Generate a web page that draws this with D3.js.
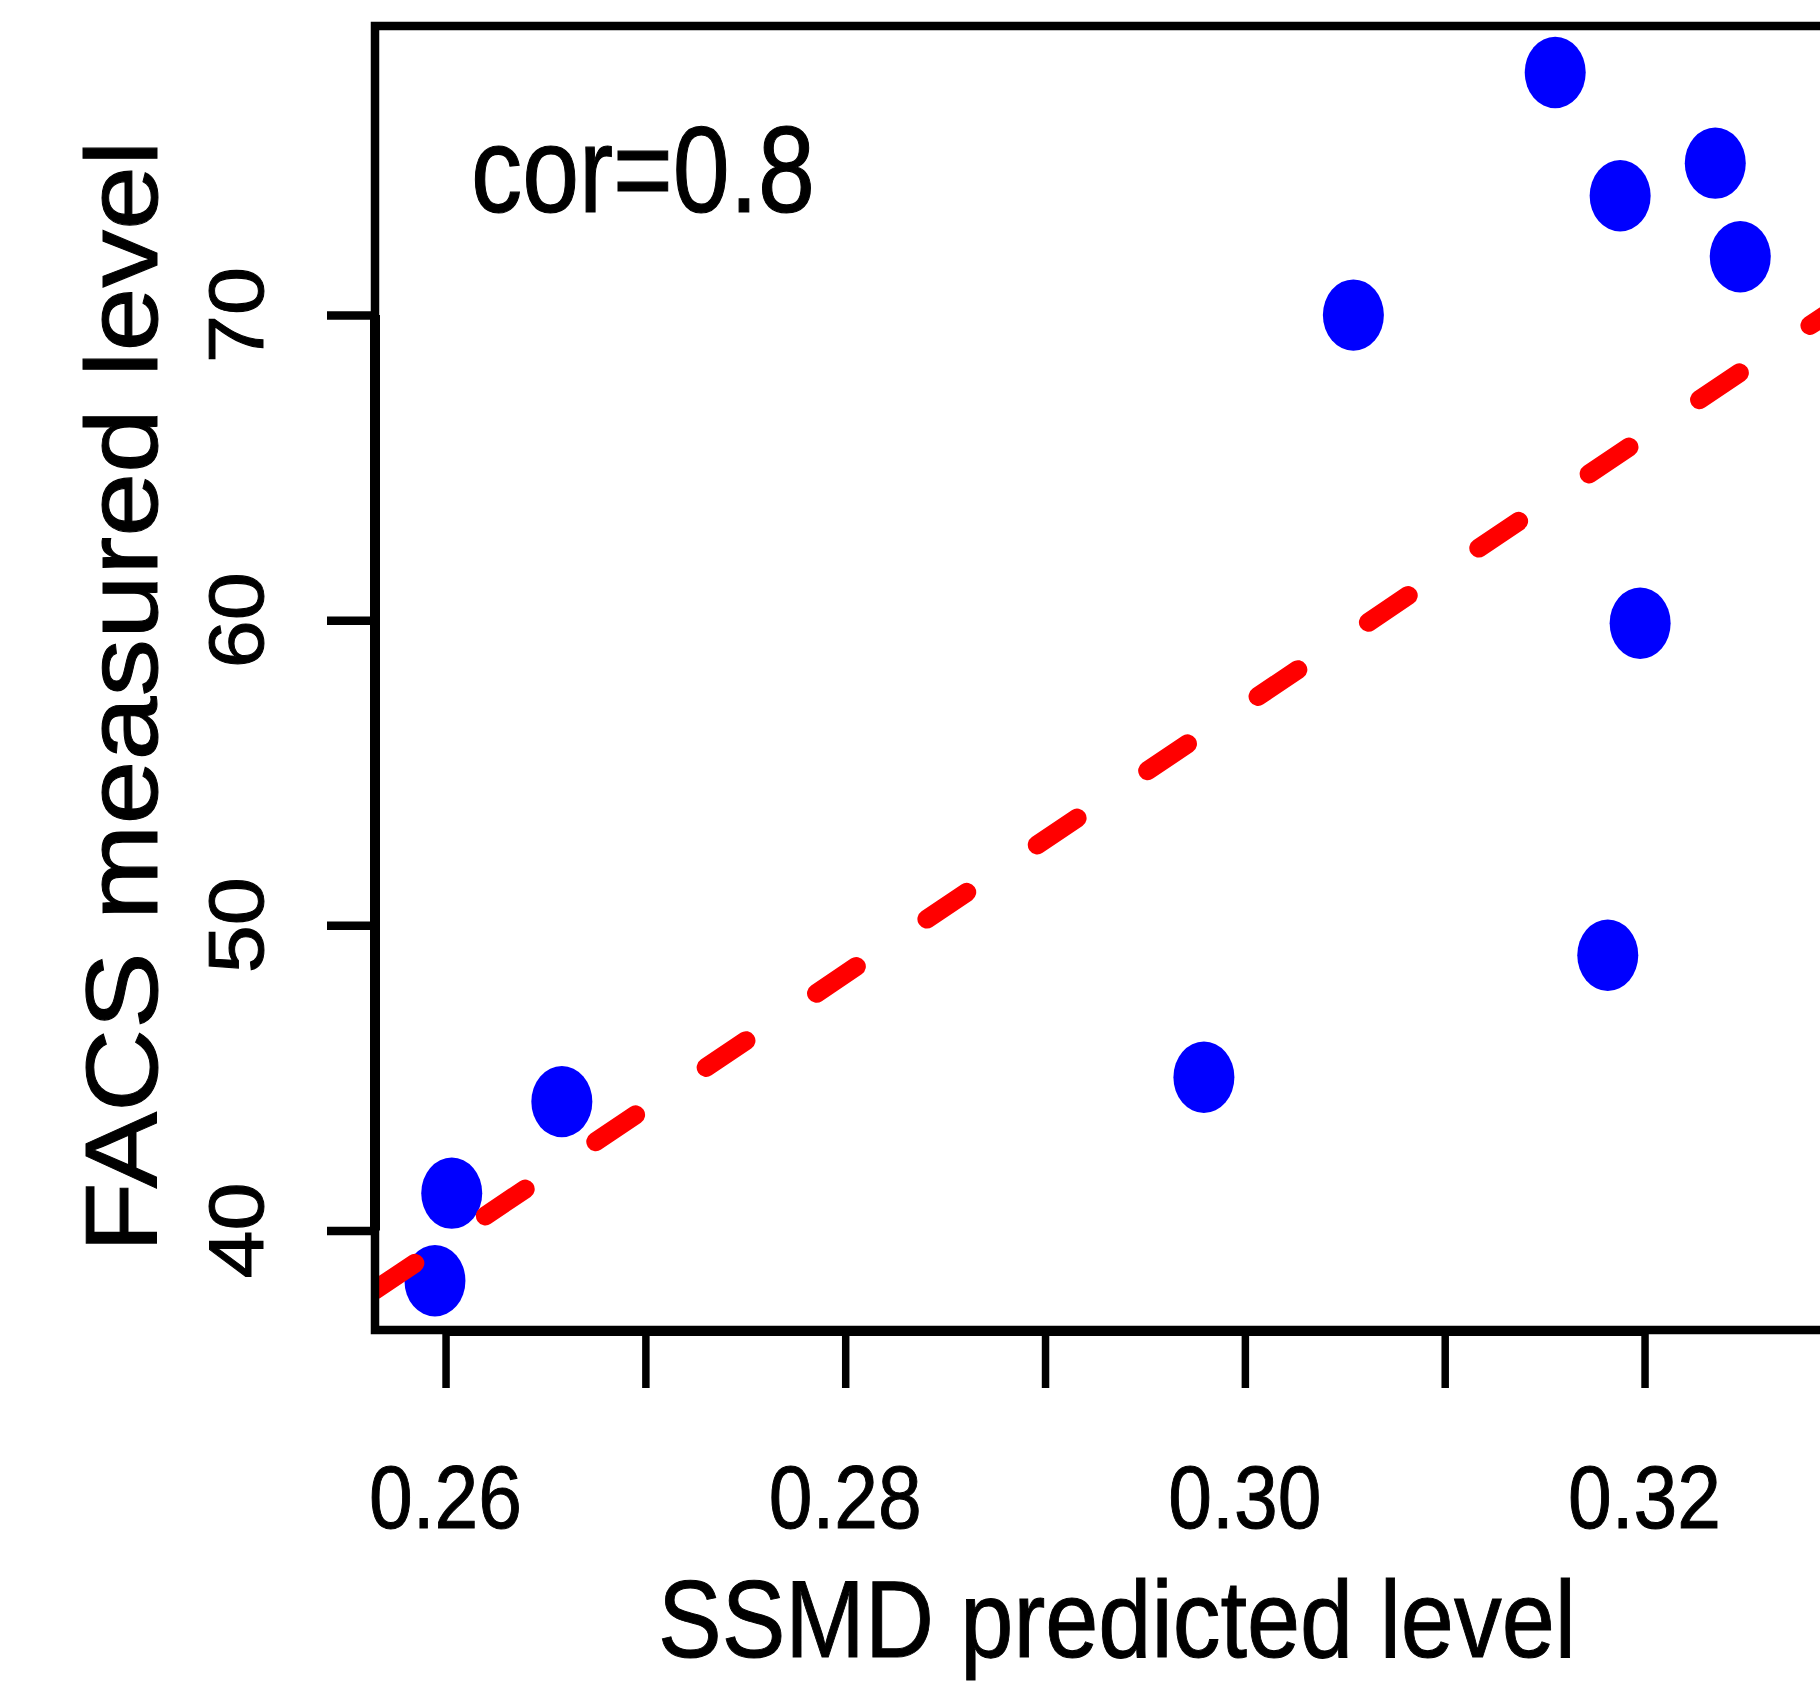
<!DOCTYPE html>
<html><head><meta charset="utf-8">
<script src="https://cdn.jsdelivr.net/npm/d3@7"></script>
<style>body{margin:0;background:#fff}</style>
</head><body>
<script>
// ---- data ----
const ssmd = [0.25947, 0.26031, 0.26582, 0.29795, 0.30543, 0.31553, 0.31878, 0.31816, 0.31978, 0.32354, 0.32479];
const facs = [38.35, 41.22, 44.22, 45.02, 70.0, 77.95, 73.91, 49.02, 59.90, 74.98, 71.91];
const xTicks = [0.26, 0.27, 0.28, 0.29, 0.30, 0.31, 0.32];
const xTickLabels = ["0.26", "", "0.28", "", "0.30", "", "0.32"];
const yTicks = [40, 50, 60, 70];
const yTickLabels = ["40", "50", "60", "70"];
const fitLine = [-74.88, 440.3]; // intercept, slope
const corLabel = "cor=0.8";
const xTitle = "SSMD predicted level";
const yTitle = "FACS measured level";

const W = 1820, H = 1690;
const FONT = "'Liberation Sans', Arial, Helvetica, sans-serif";
const svg = d3.select("body").append("svg").attr("width", W).attr("height", H)
  .style("background", "#fff");

const x = d3.scaleLinear().domain([0.25647, 0.3343]).range([375, 1930.3]);
const y = d3.scaleLinear().domain([36.735, 79.475]).range([1330, 26]);

const [x0, x1] = x.range(), [yb, yt] = y.range();

svg.append("clipPath").attr("id", "plotclip").append("rect")
  .attr("x", x0).attr("y", yt).attr("width", x1 - x0).attr("height", yb - yt);

// points
const pts = ssmd.map((v, i) => ({x: v, y: facs[i]}));
svg.append("g").selectAll("ellipse").data(pts).join("ellipse")
  .attr("cx", d => x(d.x)).attr("cy", d => y(d.y))
  .attr("rx", 30.5).attr("ry", 35.7)
  .attr("fill", "#0000ff");

// regression line (dashed)
const dom = x.domain();
const linePts = dom.map(v => [v, fitLine[0] + fitLine[1] * v]);
svg.append("path")
  .attr("clip-path", "url(#plotclip)")
  .attr("d", d3.line().x(d => x(d[0])).y(d => y(d[1]))(linePts))
  .attr("fill", "none").attr("stroke", "#ff0000").attr("stroke-width", 19)
  .attr("stroke-linecap", "round").attr("stroke-dasharray", "48 85");

// box
svg.append("rect").attr("x", x0).attr("y", yt).attr("width", x1 - x0).attr("height", yb - yt)
  .attr("fill", "none").attr("stroke", "#000").attr("stroke-width", 8.5);

// x axis
const xAxis = d3.axisBottom(x).tickValues(xTicks).tickSize(58).tickSizeOuter(0).tickFormat("");
const gx = svg.append("g").attr("transform", `translate(0,${yb})`).call(xAxis);
gx.select(".domain").remove();
gx.selectAll(".tick line").attr("stroke", "#000").attr("stroke-width", 7.5);
svg.append("line").attr("x1", x(xTicks[0])).attr("x2", x(xTicks[xTicks.length - 1]))
  .attr("y1", yb + 1).attr("y2", yb + 1).attr("stroke", "#000").attr("stroke-width", 10);
svg.append("g").selectAll("text").data(xTicks.map((v, i) => ({v, l: xTickLabels[i]})).filter(d => d.l))
  .join("text")
  .attr("x", d => x(d.v)).attr("y", 1528)
  .attr("text-anchor", "middle")
  .attr("font-family", FONT).attr("font-size", 89)
  .attr("stroke", "#000").attr("stroke-width", 1)
  .attr("textLength", 153).attr("lengthAdjust", "spacingAndGlyphs")
  .text(d => d.l);

// y axis
const yAxis = d3.axisLeft(y).tickValues(yTicks).tickSize(48).tickSizeOuter(0).tickFormat("");
const gy = svg.append("g").attr("transform", `translate(${x0},0)`).call(yAxis);
gy.select(".domain").remove();
gy.selectAll(".tick line").attr("stroke", "#000").attr("stroke-width", 8.5);
svg.append("line").attr("x1", x0).attr("x2", x0)
  .attr("y1", y(yTicks[0])).attr("y2", y(yTicks[yTicks.length - 1]))
  .attr("stroke", "#000").attr("stroke-width", 10);
svg.append("g").selectAll("text").data(yTicks.map((v, i) => ({v, l: yTickLabels[i]})))
  .join("text")
  .attr("transform", d => `translate(263,${y(d.v)}) rotate(-90)`)
  .attr("text-anchor", "middle")
  .attr("font-family", FONT).attr("font-size", 78)
  .attr("stroke", "#000").attr("stroke-width", 1)
  .attr("textLength", 96).attr("lengthAdjust", "spacingAndGlyphs")
  .text(d => d.l);

// titles
svg.append("text").attr("x", 1117).attr("y", 1657).attr("text-anchor", "middle")
  .attr("font-family", FONT).attr("font-size", 110)
  .attr("stroke", "#000").attr("stroke-width", 1)
  .attr("textLength", 918).attr("lengthAdjust", "spacingAndGlyphs")
  .text(xTitle);
svg.append("text").attr("transform", "translate(157,696.5) rotate(-90)")
  .attr("text-anchor", "middle")
  .attr("font-family", FONT).attr("font-size", 102)
  .attr("stroke", "#000").attr("stroke-width", 1)
  .attr("textLength", 1112).attr("lengthAdjust", "spacingAndGlyphs")
  .text(yTitle);

// annotation
svg.append("text").attr("x", 471).attr("y", 212)
  .attr("font-family", FONT).attr("font-size", 123)
  .attr("stroke", "#000").attr("stroke-width", 1.2)
  .attr("textLength", 344).attr("lengthAdjust", "spacingAndGlyphs")
  .text(corLabel);
</script>
</body></html>
